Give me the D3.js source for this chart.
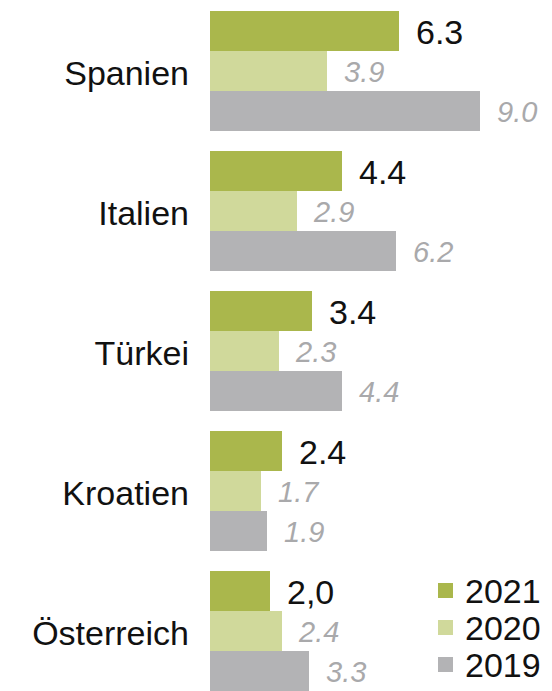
<!DOCTYPE html>
<html>
<head>
<meta charset="utf-8">
<script src="https://cdn.jsdelivr.net/npm/d3@7"></script>
<style>
  html, body { margin: 0; padding: 0; background: #fff; }
  svg { display: block; }
  text { font-family: "Liberation Sans", Arial, sans-serif; }
</style>
</head>
<body>
<svg id="chart" width="552" height="691"></svg>
<script>
// Countries, top to bottom
const countries = ["Spanien", "Italien", "Türkei", "Kroatien", "Österreich"];
// Series, drawn top to bottom inside each country group
const years = ["2021", "2020", "2019"];
const values2021 = [6.3, 4.4, 3.4, 2.4, 2.0];
const values2020 = [3.9, 2.9, 2.3, 1.7, 2.4];
const values2019 = [9.0, 6.2, 4.4, 1.9, 3.3];
// Printed value labels (2021 for Österreich uses a decimal comma)
const labels2021 = ["6.3", "4.4", "3.4", "2.4", "2,0"];
const labels2020 = ["3.9", "2.9", "2.3", "1.7", "2.4"];
const labels2019 = ["9.0", "6.2", "4.4", "1.9", "3.3"];

const seriesValues = { "2021": values2021, "2020": values2020, "2019": values2019 };
const seriesLabels = { "2021": labels2021, "2020": labels2020, "2019": labels2019 };
const colors = { "2021": "#aab74c", "2020": "#d0d99b", "2019": "#b3b3b5" };

const svg = d3.select("#chart");

const x = d3.scaleLinear().domain([0, 9]).range([210, 480]);
const y = d3.scaleBand().domain(countries).range([1, 701])
  .paddingInner(20 / 140).paddingOuter(10 / 140);
const ySub = d3.scaleBand().domain(years).range([0, y.bandwidth()]);

const rows = [];
countries.forEach((c, i) => {
  years.forEach(yr => {
    rows.push({ country: c, year: yr, value: seriesValues[yr][i], label: seriesLabels[yr][i] });
  });
});

const g = svg.append("g");

g.selectAll("rect.bar").data(rows).join("rect")
  .attr("class", "bar")
  .attr("x", x(0))
  .attr("y", d => y(d.country) + ySub(d.year))
  .attr("width", d => x(d.value) - x(0))
  .attr("height", ySub.bandwidth())
  .attr("fill", d => colors[d.year]);

// Value labels: 2021 in black, earlier years in grey italics
g.selectAll("text.val").data(rows).join("text")
  .attr("class", "val")
  .attr("x", d => x(d.value) + 17)
  .attr("y", d => y(d.country) + ySub(d.year) + ySub.bandwidth() / 2 + (d.year === "2021" ? 13 : 11))
  .attr("font-size", d => d.year === "2021" ? 34 : 29)
  .attr("font-style", d => d.year === "2021" ? "normal" : "italic")
  .attr("fill", d => d.year === "2021" ? "#111" : "#a9a9ab")
  .text(d => d.label);

// Country labels
g.selectAll("text.cat").data(countries).join("text")
  .attr("class", "cat")
  .attr("x", 189)
  .attr("y", d => y(d) + y.bandwidth() / 2 + 14)
  .attr("text-anchor", "end")
  .attr("font-size", 34)
  .attr("fill", "#111")
  .text(d => d);

// Legend
const legend = svg.append("g").attr("transform", "translate(438, 583)");
const li = legend.selectAll("g").data(years).join("g")
  .attr("transform", (d, i) => `translate(0, ${i * 37})`);
li.append("rect").attr("width", 15).attr("height", 15).attr("fill", d => colors[d]);
li.append("text").attr("x", 27).attr("y", 20)
  .attr("font-size", 34).attr("fill", "#111").text(d => d);
</script>
</body>
</html>
